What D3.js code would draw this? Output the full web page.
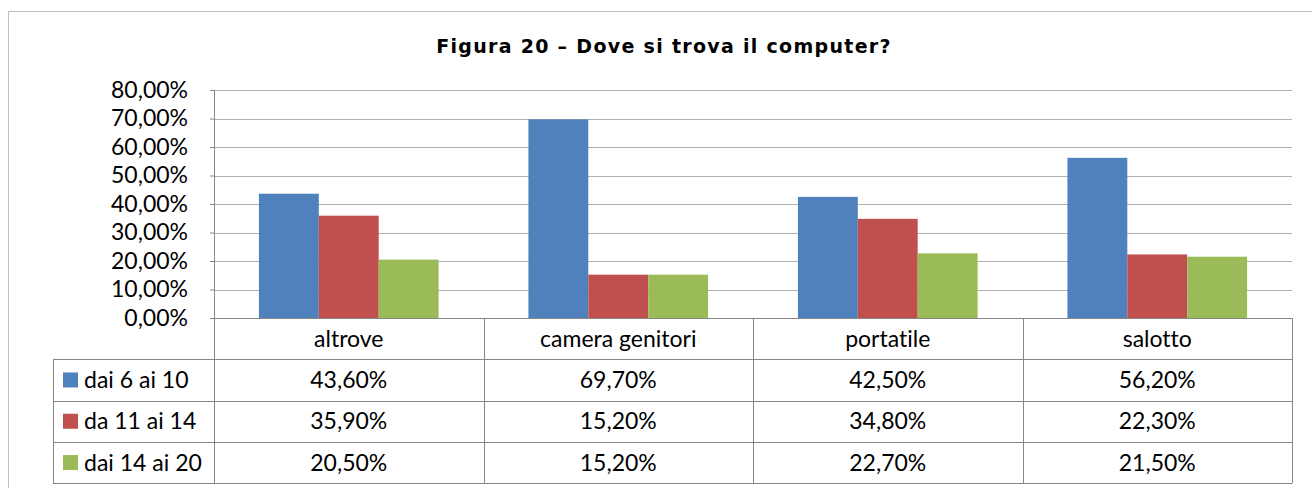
<!DOCTYPE html>
<html>
<head>
<meta charset="utf-8">
<script src="https://cdn.jsdelivr.net/npm/d3@7"></script>
<style>
  html, body { margin: 0; padding: 0; background: #fff; }
  svg { display: block; }
  .lbl { font-family: Lato, "Open Sans", sans-serif; font-size: 23px; fill: #000; font-variant-ligatures: none; font-feature-settings: "liga" 0; }
  .title { font-family: "DejaVu Sans", Verdana, sans-serif; font-weight: bold; font-size: 19px; letter-spacing: 1.3px; fill: #000; }
</style>
</head>
<body>
<div id="chart"></div>
<script>
// chart data
const categories = ["altrove", "camera genitori", "portatile", "salotto"];
const seriesNames = ["dai 6 ai 10", "da 11 ai 14", "dai 14 ai 20"];
const seriesColors = ["#4F81BD", "#C0504D", "#9BBB59"];
const age6to10 = [43.6, 69.7, 42.5, 56.2];
const age11to14 = [35.9, 15.2, 34.8, 22.3];
const age14to20 = [20.5, 15.2, 22.7, 21.5];
const yTicks = [0, 10, 20, 30, 40, 50, 60, 70, 80];
const chartTitle = "Figura 20 \u2013 Dove si trova il computer?";

const series = [age6to10, age11to14, age14to20];

const W = 1312, H = 488;
const plot = { left: 214, right: 1292, top: 90, bottom: 318 };
const rowH = 41.3;
const tableLeft = 53;

const itLocale = d3.formatLocale({ decimal: ",", thousands: ".", grouping: [3], currency: ["", "\u20ac"] });
const pct = itLocale.format(".2f");
const fmt = v => pct(v) + "%";

const svg = d3.select("#chart").append("svg")
    .attr("width", W).attr("height", H);

// outer frame (clipped by the window on right and bottom)
svg.append("rect")
    .attr("x", 8.5).attr("y", 11.5)
    .attr("width", W + 20).attr("height", H + 20)
    .attr("fill", "none").attr("stroke", "#BFBFBF");

svg.append("text")
    .attr("class", "title")
    .attr("x", 664).attr("y", 53)
    .attr("text-anchor", "middle")
    .text(chartTitle);

const y = d3.scaleLinear().domain([0, 80]).range([plot.bottom, plot.top]);

const x0 = d3.scaleBand().domain(categories)
    .range([plot.left, plot.right])
    .paddingInner(1 / 3).paddingOuter(1 / 6);
const x1 = d3.scaleBand().domain(d3.range(series.length))
    .range([0, x0.bandwidth()]);

// gridlines
svg.append("g")
    .selectAll("line")
    .data(yTicks.filter(d => d > 0))
    .join("line")
    .attr("x1", plot.left).attr("x2", plot.right)
    .attr("y1", d => Math.round(y(d)) + 0.5).attr("y2", d => Math.round(y(d)) + 0.5)
    .attr("stroke", "#B0B0B0");

// y axis labels
const yAxis = g => g
    .attr("transform", `translate(${plot.left},0)`)
    .call(d3.axisLeft(y).tickValues(yTicks).tickFormat(fmt).tickSize(4).tickPadding(22))
    .call(g => g.select(".domain").remove())
    .call(g => g.selectAll(".tick line").attr("stroke", "#868686"))
    .call(g => g.selectAll(".tick text").attr("class", "lbl").attr("font-size", null).attr("font-family", null));
svg.append("g").call(yAxis);

// bars
svg.append("g")
    .selectAll("g")
    .data(series)
    .join("g")
    .attr("fill", (d, i) => seriesColors[i])
    .selectAll("rect")
    .data((vals, si) => vals.map((v, ci) => ({ v, ci, si })))
    .join("rect")
    .attr("x", d => x0(categories[d.ci]) + x1(d.si))
    .attr("width", x1.bandwidth())
    .attr("y", d => y(d.v))
    .attr("height", d => y(0) - y(d.v));

// data table
const grid = svg.append("g").attr("stroke", "#868686").attr("fill", "none");
const bottom = plot.bottom + rowH * 4;
// axis line and horizontal rows
grid.append("line").attr("x1", plot.left).attr("x2", plot.right)
    .attr("y1", plot.bottom + 0.5).attr("y2", plot.bottom + 0.5);
d3.range(1, 5).forEach(r => {
    const yy = Math.round(plot.bottom + rowH * r) + 0.5;
    grid.append("line").attr("x1", tableLeft).attr("x2", plot.right)
        .attr("y1", yy).attr("y2", yy);
});
// verticals
grid.append("line").attr("x1", plot.left + 0.5).attr("x2", plot.left + 0.5)
    .attr("y1", plot.top).attr("y2", bottom);
grid.append("line").attr("x1", tableLeft + 0.5).attr("x2", tableLeft + 0.5)
    .attr("y1", Math.round(plot.bottom + rowH)).attr("y2", bottom);
categories.forEach(c => {
    const xx = Math.round(x0(c) + x0.bandwidth() + x0.step() * x0.paddingInner() / 2) + 0.5;
    grid.append("line").attr("x1", xx).attr("x2", xx)
        .attr("y1", plot.bottom).attr("y2", bottom);
});

// category header
svg.append("g").selectAll("text")
    .data(categories)
    .join("text")
    .attr("class", "lbl")
    .attr("x", d => x0(d) + x0.bandwidth() / 2)
    .attr("y", plot.bottom + rowH / 2)
    .attr("dy", "0.35em")
    .attr("text-anchor", "middle")
    .text(d => d);

// rows
series.forEach((vals, si) => {
    const cy = plot.bottom + rowH * (si + 1) + rowH / 2;
    svg.append("rect")
        .attr("x", 63).attr("y", cy - 7.5)
        .attr("width", 15).attr("height", 15)
        .attr("fill", seriesColors[si]);
    svg.append("text")
        .attr("class", "lbl")
        .attr("x", 84).attr("y", cy).attr("dy", "0.35em")
        .text(seriesNames[si]);
    svg.append("g").selectAll("text")
        .data(vals)
        .join("text")
        .attr("class", "lbl")
        .attr("x", (v, ci) => x0(categories[ci]) + x0.bandwidth() / 2)
        .attr("y", cy).attr("dy", "0.35em")
        .attr("text-anchor", "middle")
        .text(fmt);
});
</script>
</body>
</html>
